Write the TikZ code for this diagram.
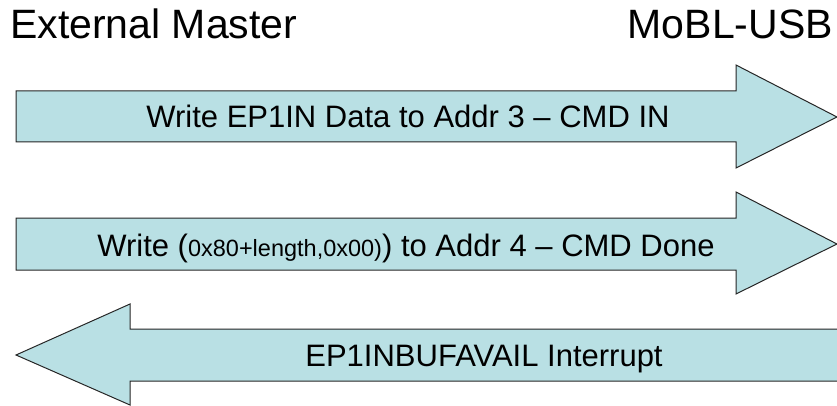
\documentclass[tikz,border=0pt]{standalone}
\usepackage{fontspec}
\setmainfont{Liberation Sans}
\definecolor{arrowfill}{HTML}{B9E0E4}
\tikzset{
  bigarrow/.style={fill=arrowfill, draw=black!85, line width=1pt, line join=miter},
  arrowtext/.style={font=\fontsize{31}{36}\selectfont, inner sep=0pt, anchor=base},
  title/.style={font=\fontsize{41}{48}\selectfont, inner sep=0pt}
}
\newcommand{\smalltxt}[1]{{\fontsize{23.5}{26}\selectfont #1}}

\begin{document}
\begin{tikzpicture}[x=1pt,y=-1pt]
\useasboundingbox (0,0) rectangle (837,406);
\clip (0,0) rectangle (837,406);
% headings
\node[title, anchor=base west] (master) at (10,39) {External Master};
\node[title, anchor=base east] (mobl) at (833,39) {MoBL-USB};
% master -> MoBL-USB
\draw[bigarrow] (16,91) -- (736,91) -- (736,65) -- (837,117) -- (736,168) -- (736,142) -- (16,142) -- cycle;
\node[arrowtext] (cmdin) at (408,128) {Write EP1IN Data to Addr 3 – CMD IN};
\draw[bigarrow] (16,218) -- (736,218) -- (736,192) -- (837,244) -- (736,294) -- (736,270) -- (16,270) -- cycle;
\node[arrowtext] (cmddone) at (406,256) {Write (\smalltxt{0x80+length,0x00)}) to Addr 4 – CMD Done};
% MoBL-USB -> master
\draw[bigarrow] (850,329) -- (130,329) -- (130,304) -- (16,355) -- (130,405) -- (130,381) -- (850,381) -- cycle;
\node[arrowtext] (irq) at (484,366) {EP1INBUFAVAIL Interrupt};
\end{tikzpicture}
\end{document}
